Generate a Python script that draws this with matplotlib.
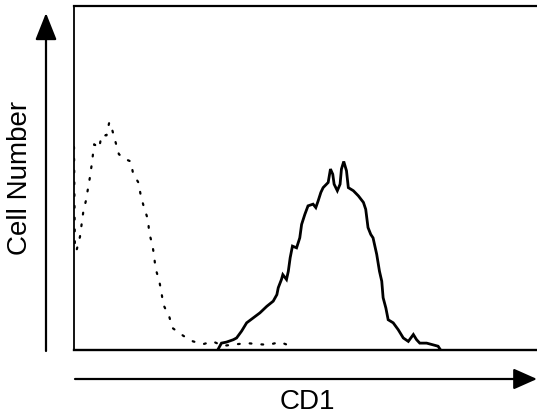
import matplotlib
matplotlib.use("Agg")
import matplotlib.pyplot as plt

# Control (dotted) histogram: fluorescence channel vs. cell count
ctrl_x = [0, 2, 6, 13, 20, 26, 35, 39, 44, 55, 60, 71, 77, 83, 90, 98, 112, 124,
          129, 141, 146, 153, 162, 164, 171, 175, 178, 186, 191, 195, 208, 215,
          239, 260, 282, 303, 325, 350, 377, 402, 424, 450, 472]
ctrl_y = [59, 28.9, 29.2, 32.9, 39.9, 43.4, 50.4, 54.2, 59.8, 58.7, 62.4, 62.4,
          66.2, 64.2, 60.8, 56.9, 55.5, 54.8, 51.3, 48.6, 44.7, 41.4, 37.7, 34.1,
          30.7, 27.3, 23.7, 20.2, 16.7, 13.2, 9.7, 6.4, 4.1, 2.5, 1.7, 2.5, 1.2,
          1.6, 2.0, 1.7, 1.5, 2.3, 1.2]

# CD1 stained (solid) histogram
cd1_x = [315, 322, 333, 348, 355, 366, 377, 391, 406, 421, 435, 443, 446, 453,
         456, 464, 468, 472, 477, 486, 493, 497, 504, 511, 522, 528, 533, 539,
         544, 555, 560, 565, 568, 575, 581, 584, 589, 595, 599, 610, 621, 632,
         637, 642, 648, 653, 661, 667, 672, 675, 681, 686, 697, 708, 719, 730,
         741, 748, 755, 770, 784, 795, 799]
cd1_y = [0.3, 2.0, 2.3, 3.0, 3.5, 5.5, 7.9, 9.3, 10.8, 12.7, 14.2, 16.1, 18.1,
         20.5, 21.9, 20.5, 22.9, 26.8, 30.2, 29.7, 32.6, 36.5, 39.4, 41.9, 42.4,
         41.4, 43.3, 45.8, 47.2, 48.7, 52.6, 51.1, 48.2, 46.3, 48.2, 52.6, 54.8,
         52.1, 47.2, 46.3, 44.8, 42.9, 40.9, 35.6, 33.6, 32.6, 27.8, 22.9, 20.0,
         15.2, 12.2, 8.8, 7.9, 5.9, 3.5, 2.5, 4.5, 3.0, 2.0, 2.0, 1.5, 1.1, 0.3]

x_label = "CD1"
y_label = "Cell Number"

W, H = 537, 414
fig = plt.figure(figsize=(W / 100, H / 100), dpi=100)
plt.rcParams['font.family'] = ['Liberation Sans', 'DejaVu Sans']

ax = fig.add_axes([74 / W, (H - 351) / H, (W - 74) / W, (351 - 7) / H])
ax.plot(ctrl_x, ctrl_y, color='black', lw=1.6, linestyle=(0, (0.8, 4.5)),
        dash_capstyle='round')
ax.plot(cd1_x, cd1_y, color='black', lw=2.0, solid_joinstyle='miter')
ax.set_xlim(0, 1011)
ax.set_ylim(0, 100)
ax.set_xticks([])
ax.set_yticks([])
ax.spines['right'].set_visible(False)
ax.spines['top'].set_linewidth(1.6)
ax.spines['bottom'].set_linewidth(1.7)
ax.spines['left'].set_linewidth(1.3)

# Axis arrows
ax_kw = dict(xycoords='figure pixels', textcoords='figure pixels')
ax.annotate('', xy=(46, H - 14), xytext=(46, H - 352),
            arrowprops=dict(arrowstyle='-|>,head_length=0.83,head_width=0.33',
                            lw=1.6, color='black', mutation_scale=20,
                            shrinkA=0, shrinkB=0), annotation_clip=False, **ax_kw)
ax.annotate('', xy=(537, H - 380), xytext=(75, H - 380),
            arrowprops=dict(arrowstyle='-|>,head_length=0.72,head_width=0.32',
                            lw=1.6, color='black', mutation_scale=20,
                            shrinkA=0, shrinkB=0), annotation_clip=False, **ax_kw)

fig.text(307 / W, (H - 402) / H, x_label, ha='center', va='center', fontsize=20)
fig.text(20 / W, (H - 178) / H, y_label, ha='center', va='center', fontsize=20,
         rotation=90)

fig.savefig('out.png', dpi=100)
